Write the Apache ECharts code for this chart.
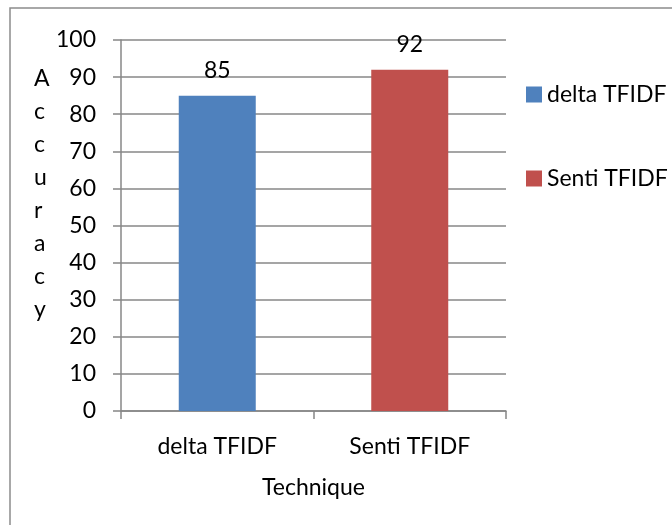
<!DOCTYPE html>
<html>
<head>
<meta charset="utf-8">
<script src="https://cdn.jsdelivr.net/npm/echarts@6/dist/echarts.min.js"></script>
<style>
  html, body { margin: 0; padding: 0; background: #ffffff; }
  #chart { width: 672px; height: 525px; }
</style>
</head>
<body>
<div id="chart"></div>
<script>
// Accuracy by weighting technique
const categories = ['delta TFIDF', 'Senti TFIDF'];
const deltaValues = [85, '-'];
const sentiValues = ['-', 92];
const yTicks = [0, 10, 20, 30, 40, 50, 60, 70, 80, 90, 100];
const yAxisTitle = 'Accuracy';
const xAxisTitle = 'Technique';

const FONT = 'Lato';
const GRID_COLOR = '#878787';

const chart = echarts.init(document.getElementById('chart'), null, { renderer: 'canvas' });

const labelStyle = {
  show: true,
  position: 'top',
  distance: 14,
  color: '#000',
  fontFamily: FONT,
  fontSize: 23
};

chart.setOption({
  animation: false,
  backgroundColor: '#ffffff',
  textStyle: { fontFamily: FONT },
  graphic: [
    {
      type: 'rect',
      shape: { x: 10, y: 8, width: 700, height: 600 },
      style: { fill: 'none', stroke: '#8c8c8c', lineWidth: 1.5 },
      silent: true
    },
    {
      type: 'text',
      left: 34,
      top: 62,
      style: {
        text: yAxisTitle.split('').join('\n'),
        fontFamily: FONT,
        fontSize: 23,
        lineHeight: 33,
        fill: '#000',
        align: 'center'
      }
    }
  ],
  legend: {
    orient: 'vertical',
    left: 521,
    top: 78,
    itemWidth: 16,
    itemHeight: 16,
    itemGap: 61,
    icon: 'rect',
    data: categories,
    textStyle: { color: '#000', fontFamily: FONT, fontSize: 23 }
  },
  grid: { left: 121, right: 166, top: 40, bottom: 114, containLabel: false },
  xAxis: {
    type: 'category',
    data: categories,
    name: xAxisTitle,
    nameLocation: 'middle',
    nameGap: 65,
    nameTextStyle: { color: '#000', fontFamily: FONT, fontSize: 23 },
    axisLine: { lineStyle: { color: GRID_COLOR, width: 1.5 } },
    axisTick: { show: true, alignWithLabel: false, length: 8, lineStyle: { color: GRID_COLOR, width: 1.5 } },
    axisLabel: { color: '#000', fontFamily: FONT, fontSize: 23, margin: 24 }
  },
  yAxis: {
    type: 'value',
    min: yTicks[0],
    max: yTicks[yTicks.length - 1],
    interval: yTicks[1] - yTicks[0],
    axisLine: { show: true, lineStyle: { color: GRID_COLOR, width: 1.5 } },
    axisTick: { show: true, length: 8, lineStyle: { color: GRID_COLOR, width: 1.5 } },
    axisLabel: { color: '#000', fontFamily: FONT, fontSize: 23, margin: 25 },
    splitLine: { show: true, lineStyle: { color: GRID_COLOR, width: 1.5 } }
  },
  series: [
    {
      name: categories[0],
      type: 'bar',
      stack: 'acc',
      barWidth: '40%',
      data: deltaValues,
      itemStyle: { color: '#4F81BD' },
      label: labelStyle
    },
    {
      name: categories[1],
      type: 'bar',
      stack: 'acc',
      barWidth: '40%',
      data: sentiValues,
      itemStyle: { color: '#C0504D' },
      label: labelStyle
    }
  ]
});
</script>
</body>
</html>
